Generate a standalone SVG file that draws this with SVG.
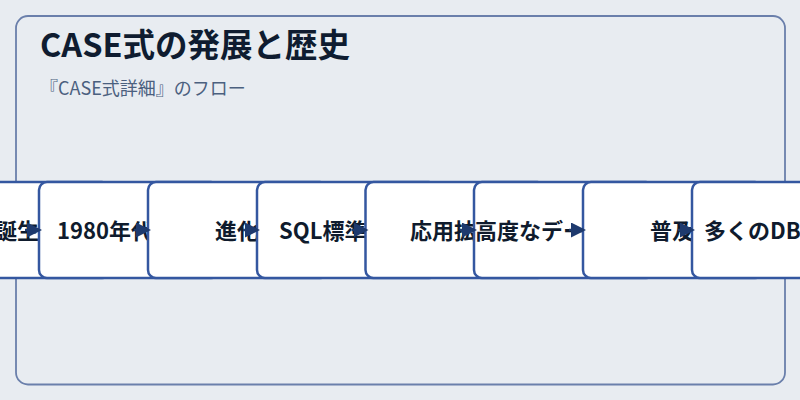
<svg xmlns="http://www.w3.org/2000/svg" width="800" height="400" viewBox="0 0 800 400">
  <defs>
    <marker id="arr" viewBox="0 0 10 10" markerUnits="userSpaceOnUse" markerWidth="15" markerHeight="15" refX="8" refY="5" orient="auto">
      <path d="M0,0 L10,5 L0,10 z" fill="#1e3a6e"/>
    </marker>
    <style>
      .node rect { fill: #ffffff; stroke: #3457a0; stroke-width: 2.5; }
      .node text { font-family: "Noto Sans CJK JP", "Noto Sans", sans-serif; font-weight: bold; font-size: 22px; fill: #0f1b2d; }
      .conn line { stroke: #1e3a6e; stroke-width: 2.5; }
      .title { font-family: "Noto Sans CJK JP", "Noto Sans", sans-serif; font-weight: bold; font-size: 32.5px; fill: #0f1c30; }
      .sub { font-family: "Noto Sans CJK JP", "Noto Sans", sans-serif; font-size: 18px; fill: #4b607f; }
    </style>
  </defs>
  <rect x="0" y="0" width="800" height="400" fill="#e8ecf1"/>
  <rect id="panel" x="16" y="16" width="769" height="368.5" rx="12" fill="#e8ecf1" stroke="#6a7fab" stroke-width="1.8"/>
  <text class="title" x="40" y="57">CASE式の発展と歴史</text>
  <text class="sub" x="40" y="95">『CASE式詳細』のフロー</text>

  <g id="node1" class="node"><rect x="-70" y="182" width="180" height="96" rx="8"/><text x="-5" y="238.5">誕生</text></g>
  <g id="node2" class="node"><rect x="39" y="182" width="180" height="96" rx="8"/><text x="57" y="238.5">1980年代</text></g>
  <g id="node3" class="node"><rect x="148" y="182" width="180" height="96" rx="8"/><text x="215" y="238.5">進化</text></g>
  <g id="node4" class="node"><rect x="257" y="182" width="180" height="96" rx="8"/><text x="279" y="238.5">SQL標準</text></g>
  <g id="node5" class="node"><rect x="365.5" y="182" width="180" height="96" rx="8"/><text x="410" y="238.5">応用拡</text></g>
  <g id="node6" class="node"><rect x="474" y="182" width="180" height="96" rx="8"/><text x="475" y="238.5">高度なデー</text></g>
  <g id="node7" class="node"><rect x="583" y="182" width="180" height="96" rx="8"/><text x="650" y="238.5">普及</text></g>
  <g id="node8" class="node"><rect x="692" y="182" width="180" height="96" rx="8"/><text x="704" y="238.5">多くのDB</text></g>

  <g id="connectors" class="conn">
    <line x1="25" y1="230" x2="39" y2="230" marker-end="url(#arr)"/>
    <line x1="134" y1="230" x2="148" y2="230" marker-end="url(#arr)"/>
    <line x1="243" y1="230" x2="257" y2="230" marker-end="url(#arr)"/>
    <line x1="351.5" y1="230" x2="365.5" y2="230" marker-end="url(#arr)"/>
    <line x1="460" y1="230" x2="474" y2="230" marker-end="url(#arr)"/>
    <line x1="569" y1="230" x2="583" y2="230" marker-end="url(#arr)"/>
    <line x1="678" y1="230" x2="692" y2="230" marker-end="url(#arr)"/>
  </g>
</svg>
